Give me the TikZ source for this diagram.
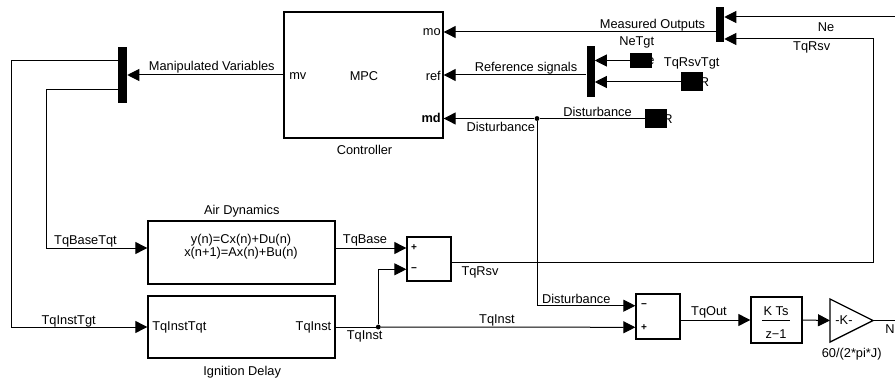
\documentclass[tikz,border=0pt]{standalone}
\usepackage{fontspec}
\setmainfont{Liberation Sans}
\usetikzlibrary{arrows.meta}
\newcommand{\sigfont}{\fontsize{9.6pt}{11pt}\selectfont}
\newcommand{\portfont}{\fontsize{7.5pt}{8pt}\selectfont\bfseries}
\begin{document}
\begin{tikzpicture}[x=0.75pt, y=-0.75pt, >={Triangle[length=9pt,width=9pt]},
  block/.style={draw, line width=1pt, inner sep=0pt},
  bar/.style={fill=black, inner sep=0pt, minimum width=6pt},
  tag/.style={fill=black, inner sep=0pt, minimum width=16.5pt},
  wire/.style={line width=0.75pt},
  jdot/.style={circle, fill=black, inner sep=1.3pt},
  lbl/.style={font=\sigfont, inner sep=0pt}]
\useasboundingbox (0,0) rectangle (895,381);

% controller and buses
\node[block, minimum width=119.25pt, minimum height=94.5pt] (mpc) at (363.5,75) {};
\node[bar, minimum height=26.25pt] (mux1) at (720,24.5) {};
\node[bar, minimum height=38.25pt] (mux2) at (590.5,71.5) {};
\node[bar, minimum width=6.75pt, minimum height=42pt] (demux) at (122.5,75) {};

% goto/from tags (names partly hidden behind the tag)
\node[lbl] (fr1) at (651,61) {e};
\node[lbl] (fr2) at (704.5,82) {R};
\node[lbl] (fr3) at (668,119) {R};
\node[tag, minimum height=11.25pt] (tagNe) at (641,60.5) {};
\node[tag, minimum height=14.25pt] (tagRsv) at (692,82) {};
\node[tag, minimum height=14.25pt] (tagDist) at (656,118.5) {};

% plant blocks
\node[block, minimum width=140.25pt, minimum height=47.25pt] (air) at (241.5,252.5) {};
\node[block, minimum width=140.25pt, minimum height=46.5pt] (ign) at (241.5,327) {};
\node[block, minimum width=33pt, minimum height=33pt] (sum1) at (429,259) {};
\node[block, minimum width=33pt, minimum height=33.75pt] (sum3) at (658,316.5) {};
\node[block, minimum width=38.25pt, minimum height=34.5pt] (integ) at (776.5,320) {};
\coordinate (gin) at (830,320.5);
\coordinate (gout) at (873,320.5);
\draw[block] (830,299) -- (gout) -- (830,342) -- cycle;

% junctions and off-page ends
\node[jdot] (j1) at (378.3,327) {};
\node[jdot] (j2) at (537,118.5) {};
\coordinate (neIn) at (900,17);
\coordinate (neOut) at (900,320.5);

% text in blocks
\node[lbl, anchor=west] (mv) at (289,76) {mv};
\node[lbl] (mpcname) at (364,76) {MPC};
\node[lbl, anchor=east] (ref) at (441,76) {ref};
\node[lbl, anchor=east] (mo) at (441,32) {mo};
\node[lbl, anchor=east, font=\sigfont\bfseries] (md) at (441,118) {md};
\node[lbl] (ctl) at (364.5,150) {Controller};
\node[lbl] (airname) at (241.8,210.7) {Air Dynamics};
\node[lbl] (eq1) at (241,240) {y(n)=Cx(n)+Du(n)};
\node[lbl] (eq2) at (241,253.3) {x(n+1)=Ax(n)+Bu(n)};
\node[lbl] (ignin) at (179.3,327.7) {TqInstTqt};
\node[lbl] (ignout) at (313.5,327.7) {TqInst};
\node[lbl] (ignname) at (242.2,371.7) {Ignition Delay};
\node[lbl, font=\portfont] (s1a) at (414,248) {+};
\node[lbl, font=\portfont] (s1b) at (414,270) {−};
\node[lbl, font=\portfont] (s3a) at (644,305.7) {−};
\node[lbl, font=\portfont] (s3b) at (644,327.7) {+};
\node[lbl] (num) at (776,310.7) {K Ts};
\node[lbl] (den) at (776,334) {z−1};
\draw[wire] ([xshift=-11pt]integ.center) -- ([xshift=10pt]integ.center);
\node[lbl] (gk) at (844,320) {-K-};
\node[lbl] (gname) at (851.7,354.3) {60/(2*pi*J)};

% signals
\draw[wire,->] (mpc.west) -- (demux.east);
\draw[wire,->] (demux.west |- 0,61) -- (11,61) |- (ign.west);
\draw[wire,->] (demux.west |- 0,90) -- (46.7,90) |- (air.west |- 0,248);
\draw[wire,->] (air.east |- 0,248) -- (sum1.west |- 0,248);
\draw[wire] (ign.east) -- (j1);
\draw[wire,->] (j1) |- (sum1.west |- 0,269.3);
\draw[wire,->] (j1) -- (sum3.west |- 0,327.3);
\draw[wire,->] (sum1.east |- 0,262) -- (873.5,262) |- (mux1.east |- 0,39);
\draw[wire,->] (neIn) -- (mux1.east |- neIn);
\draw[wire,->] (mux1.west |- 0,32) -- (mpc.east |- 0,32);
\draw[wire,->] (tagNe.west) -- (mux2.east |- tagNe.west);
\draw[wire,->] (tagRsv.west) -- (mux2.east |- tagRsv.west);
\draw[wire,->] (mux2.west |- mpc.east) -- (mpc.east);
\draw[wire] (tagDist.west) -- (j2);
\draw[wire,->] (j2) -- (mpc.east |- j2);
\draw[wire,->] (j2) |- (sum3.west |- 0,305.7);
\draw[wire,->] (sum3.east |- integ.west) -- (integ.west);
\draw[wire,->] (integ.east) -- (gin);
\draw[wire] (gout) -- (neOut);

% signal names
\node[lbl] (l1) at (211.8,67.3) {Manipulated Variables};
\node[lbl] (l2) at (652.5,25) {Measured Outputs};
\node[lbl] (l3) at (526,67.7) {Reference signals};
\node[lbl] (l4) at (636.7,42.3) {NeTgt};
\node[lbl] (l5) at (691.7,63.3) {TqRsvTgt};
\node[lbl] (l6) at (597.5,111.5) {Disturbance};
\node[lbl] (l7) at (500.8,126.7) {Disturbance};
\node[lbl] (l8) at (826,26.7) {Ne};
\node[lbl] (l9) at (811.7,47.7) {TqRsv};
\node[lbl] (l10) at (85.5,241.7) {TqBaseTqt};
\node[lbl] (l11) at (68.7,321) {TqInstTgt};
\node[lbl] (l12) at (365,240.7) {TqBase};
\node[lbl] (l13) at (364.7,336.7) {TqInst};
\node[lbl] (l14) at (480,272.3) {TqRsv};
\node[lbl] (l15) at (497,320) {TqInst};
\node[lbl] (l16) at (576.3,299) {Disturbance};
\node[lbl] (l17) at (709,312.7) {TqOut};
\node[lbl, anchor=west] (l18) at (885,329) {Ne};
\end{tikzpicture}
\end{document}
